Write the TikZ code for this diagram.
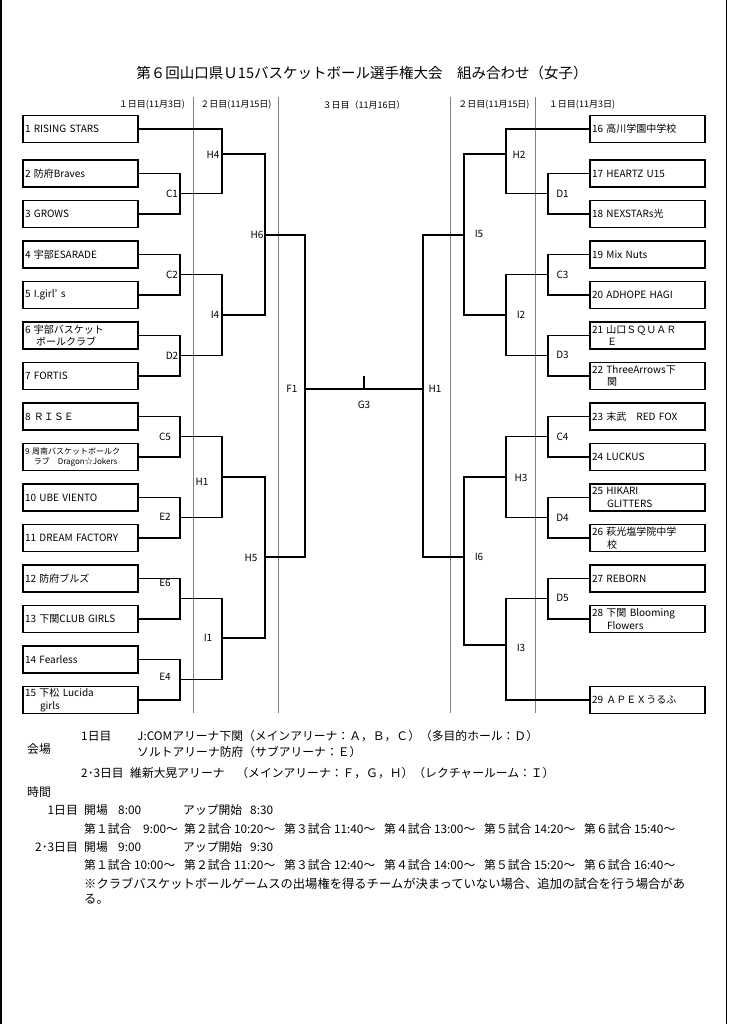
\documentclass[tikz,border=0pt]{standalone}
\usepackage{fontspec}
\setmainfont{Noto Sans CJK JP}
\begin{document}
\begin{tikzpicture}[x=1pt,y=-1pt,
 team/.style={draw,line width=1.4pt,rectangle,text width=111pt,align=left,minimum height=27pt,inner xsep=2pt,inner ysep=0pt,font=\fontsize{10}{12.5}\selectfont},
 small/.style={font=\fontsize{8}{10}\selectfont},
 lab/.style={font=\fontsize{10}{12}\selectfont,inner sep=0pt},
 hdr/.style={font=\fontsize{9}{11}\selectfont,inner sep=0pt},
 txt/.style={font=\fontsize{11.8}{14}\selectfont,inner sep=0pt,anchor=west},
 wire/.style={line width=1.1pt},
 sep/.style={gray,line width=0.8pt}]
\useasboundingbox (0,0) rectangle (728,1024);
\fill[white] (0,0) rectangle (728,1024);
\draw[line width=1.5pt] (1,0) -- (1,1024);
\draw[line width=1.5pt] (726.5,0) -- (726.5,1024);

% title and headers
\node[font=\fontsize{14.5}{17}\selectfont,inner sep=0pt] (title) at (362,73) {第６回山口県Ｕ15バスケットボール選手権大会　組み合わせ（女子）};
\node[hdr] (h1) at (152,105) {１日目(11月3日)};
\node[hdr] (h2) at (236,105) {２日目(11月15日)};
\node[hdr] (h3) at (364,105) {３日目（11月16日）};
\node[hdr] (h4) at (494,105) {２日目(11月15日)};
\node[hdr] (h5) at (582,105) {１日目(11月3日)};

\foreach \x in {193,278,450,535} \draw[sep] (\x,97) -- (\x,713);

% left teams
\node[team] (t1) at (80.5,129) {1 RISING STARS};
\node[team] (t2) at (80.5,173.5) {2 防府Braves};
\node[team] (t3) at (80.5,214) {3 GROWS};
\node[team] (t4) at (80.5,254.5) {4 宇部ESARADE};
\node[team] (t5) at (80.5,295) {5 I.girl’ s};
\node[team] (t6) at (80.5,335.5) {6 宇部バスケット\\\hspace*{1.1em}ボールクラブ};
\node[team] (t7) at (80.5,376) {7 FORTIS};
\node[team] (t8) at (80.5,416.5) {8 ＲＩＳＥ};
\node[team,small] (t9) at (80.5,457) {9 周南バスケットボールク\\\hspace*{1.1em}ラブ　Dragon☆Jokers};
\node[team] (t10) at (80.5,497.5) {10 UBE VIENTO};
\node[team] (t11) at (80.5,538) {11 DREAM FACTORY};
\node[team] (t12) at (80.5,578.5) {12 防府ブルズ};
\node[team] (t13) at (80.5,619) {13 下関CLUB GIRLS};
\node[team] (t14) at (80.5,659.5) {14 Fearless};
\node[team] (t15) at (80.5,700) {15 下松 Lucida\\\hspace*{1.5em}girls};

% right teams
\node[team] (t16) at (647.5,129) {16 高川学園中学校};
\node[team] (t17) at (647.5,173.5) {17 HEARTZ U15};
\node[team] (t18) at (647.5,214) {18 NEXSTARs光};
\node[team] (t19) at (647.5,254.5) {19 Mix Nuts};
\node[team] (t20) at (647.5,295) {20 ADHOPE HAGI};
\node[team] (t21) at (647.5,335.5) {21 山口ＳＱＵＡＲ\\\hspace*{1.5em}Ｅ};
\node[team] (t22) at (647.5,376) {22 ThreeArrows下\\\hspace*{1.5em}関};
\node[team] (t23) at (647.5,416.5) {23 末武　RED FOX};
\node[team] (t24) at (647.5,457) {24 LUCKUS};
\node[team] (t25) at (647.5,497.5) {25 HIKARI\\\hspace*{1.5em}GLITTERS};
\node[team] (t26) at (647.5,538) {26 萩光塩学院中学\\\hspace*{1.5em}校};
\node[team] (t27) at (647.5,578.5) {27 REBORN};
\node[team] (t28) at (647.5,619) {28 下関 Blooming\\\hspace*{1.5em}Flowers};
\node[team] (t29) at (647.5,700) {29 ＡＰＥＸうるふ};

% match points, left
\coordinate (C1) at (180,193.75);
\coordinate (C2) at (180,274.75);
\coordinate (D2) at (180,355.75);
\coordinate (C5) at (180,436.75);
\coordinate (E2) at (180,517.75);
\coordinate (E6) at (180,598.75);
\coordinate (E4) at (180,679.75);
\coordinate (H4) at (222,154);
\coordinate (I4) at (222,315);
\coordinate (H1L) at (222,477);
\coordinate (I1) at (222,638);
\coordinate (H6) at (265,235);
\coordinate (H5) at (265,557);
\coordinate (F1) at (305,389);
% match points, right
\coordinate (D1) at (548,193.75);
\coordinate (C3) at (548,274.75);
\coordinate (D3) at (548,355.75);
\coordinate (C4) at (548,436.75);
\coordinate (D4) at (548,517.75);
\coordinate (D5) at (548,598.75);
\coordinate (H2) at (506,154);
\coordinate (I2) at (506,315);
\coordinate (H3) at (506,477);
\coordinate (I3) at (506,645);
\coordinate (I5) at (464,235);
\coordinate (I6) at (464,557);
\coordinate (H1R) at (423,389);
\coordinate (G3t) at (364,376);

% left wires
\draw[wire] (t2.east) -| (C1) |- (t3.east);
\draw[wire] (t4.east) -| (C2) |- (t5.east);
\draw[wire] (t6.east) -| (D2) |- (t7.east);
\draw[wire] (t8.east) -| (C5) |- (t9.east);
\draw[wire] (t10.east) -| (E2) |- (t11.east);
\draw[wire] (t12.east) -| (E6) |- (t13.east);
\draw[wire] (t14.east) -| (E4) |- (t15.east);
\draw[wire] (t1.east) -| (H4) |- (C1);
\draw[wire] (C2) -| (I4) |- (D2);
\draw[wire] (C5) -| (H1L) |- (E2);
\draw[wire] (E6) -| (I1) |- (E4);
\draw[wire] (H4) -| (H6) |- (I4);
\draw[wire] (H1L) -| (H5) |- (I1);
\draw[wire] (H6) -| (F1) |- (H5);
\draw[wire] (F1) -- (H1R);
\draw[wire] (G3t) -- (G3t |- F1);

% right wires
\draw[wire] (t17.west) -| (D1) |- (t18.west);
\draw[wire] (t19.west) -| (C3) |- (t20.west);
\draw[wire] (t21.west) -| (D3) |- (t22.west);
\draw[wire] (t23.west) -| (C4) |- (t24.west);
\draw[wire] (t25.west) -| (D4) |- (t26.west);
\draw[wire] (t27.west) -| (D5) |- (t28.west);
\draw[wire] (t16.west) -| (H2) |- (D1);
\draw[wire] (C3) -| (I2) |- (D3);
\draw[wire] (C4) -| (H3) |- (D4);
\draw[wire] (D5) -| (I3) |- (t29.west);
\draw[wire] (H2) -| (I5) |- (I2);
\draw[wire] (H3) -| (I6) |- (I3);
\draw[wire] (I5) -| (H1R) |- (I6);

% labels left
\node[lab] (lH4) at (213,155) {H4};
\node[lab] (lC1) at (172,194) {C1};
\node[lab] (lC2) at (172,275) {C2};
\node[lab] (lD2) at (172,356) {D2};
\node[lab] (lI4) at (215,315) {I4};
\node[lab] (lH6) at (257,235) {H6};
\node[lab] (lC5) at (165,437) {C5};
\node[lab] (lE2) at (165,517) {E2};
\node[lab] (lH1L) at (202,481.5) {H1};
\node[lab] (lH5) at (251,558) {H5};
\node[lab] (lE6) at (165,583) {E6};
\node[lab] (lI1) at (208,638) {I1};
\node[lab] (lE4) at (165,677) {E4};
\node[lab] (lF1) at (292,389) {F1};
\node[lab] (lG3) at (364,405) {G3};
% labels right
\node[lab] (lH2) at (519,155) {H2};
\node[lab] (lD1) at (562.5,194) {D1};
\node[lab] (lI5) at (479,234) {I5};
\node[lab] (lC3) at (562.5,275) {C3};
\node[lab] (lI2) at (521,315) {I2};
\node[lab] (lD3) at (562.5,355) {D3};
\node[lab] (lC4) at (562.5,437) {C4};
\node[lab] (lH3) at (521,478) {H3};
\node[lab] (lD4) at (562.5,517.5) {D4};
\node[lab] (lI6) at (479,557) {I6};
\node[lab] (lD5) at (562.5,597.5) {D5};
\node[lab] (lI3) at (521,648) {I3};
\node[lab] (lH1R) at (435,389) {H1};

% venue and times
\node[txt] (v0) at (27,749) {会場};
\node[txt] (v1) at (81,736) {1日目};
\node[txt] (v2) at (137,736) {J:COMアリーナ下関（メインアリーナ：Ａ，Ｂ，Ｃ）（多目的ホール：Ｄ）};
\node[txt] (v3) at (137,752) {ソルトアリーナ防府（サブアリーナ：Ｅ）};
\node[txt] (v4) at (81,773) {2･3日目};
\node[txt] (v5) at (130,773) {維新大晃アリーナ　（メインアリーナ：Ｆ，Ｇ，Ｈ）（レクチャールーム：Ｉ）};
\node[txt] (z0) at (27,792) {時間};
\node[txt,anchor=east] (z1) at (78,810) {1日目};
\node[txt] (z2) at (84,810) {開場};
\node[txt] (z3) at (118,810) {8:00};
\node[txt] (z4) at (183,810) {アップ開始};
\node[txt] (z5) at (250,810) {8:30};
\node[txt] (a1) at (84,829) {第１試合　9:00～};
\node[txt] (a2) at (184,829) {第２試合 10:20～};
\node[txt] (a3) at (284,829) {第３試合 11:40～};
\node[txt] (a4) at (384,829) {第４試合 13:00～};
\node[txt] (a5) at (484,829) {第５試合 14:20～};
\node[txt] (a6) at (584,829) {第６試合 15:40～};
\node[txt,anchor=east] (z7) at (78,847) {2･3日目};
\node[txt] (z8) at (84,847) {開場};
\node[txt] (z9) at (118,847) {9:00};
\node[txt] (z10) at (183,847) {アップ開始};
\node[txt] (z11) at (250,847) {9:30};
\node[txt] (b1) at (84,865) {第１試合 10:00～};
\node[txt] (b2) at (184,865) {第２試合 11:20～};
\node[txt] (b3) at (284,865) {第３試合 12:40～};
\node[txt] (b4) at (384,865) {第４試合 14:00～};
\node[txt] (b5) at (484,865) {第５試合 15:20～};
\node[txt] (b6) at (584,865) {第６試合 16:40～};
\node[txt,font=\fontsize{12.3}{14}\selectfont] (z13) at (84,884) {※クラブバスケットボールゲームスの出場権を得るチームが決まっていない場合、追加の試合を行う場合があ};
\node[txt,font=\fontsize{12.3}{14}\selectfont] (z14) at (84,899) {る。};
\end{tikzpicture}
\end{document}
